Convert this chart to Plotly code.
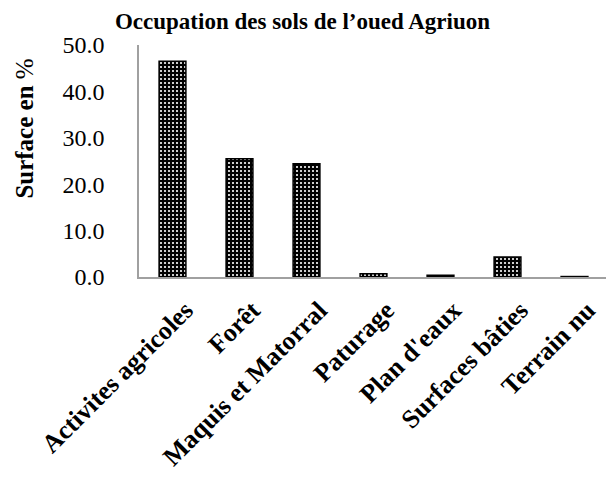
import plotly.graph_objects as go

# Land-use shares
categories = ["Activites agricoles", "Forêt", "Maquis et Matorral", "Paturage",
              "Plan d'eaux", "Surfaces bâties", "Terrain nu"]
surface_pct = [46.5, 25.5, 24.4, 0.7, 0.4, 4.3, 0.1]
y_ticks = [0, 10, 20, 30, 40, 50]
y_tick_labels = ["0.0", "10.0", "20.0", "30.0", "40.0", "50.0"]

serif = "Liberation Serif, Times New Roman, serif"

fig = go.Figure(go.Bar(
    x=categories,
    y=surface_pct,
    marker=dict(
        color="black",
        line=dict(color="black", width=1.5),
        pattern=dict(shape=".", bgcolor="black", fgcolor="white",
                     size=4, solidity=0.22, fillmode="replace"),
    ),
))

# page body adds an 8px margin, so the figure is a bit smaller than the window
fig.update_layout(
    width=606, height=474,
    margin=dict(l=131, r=6, t=37, b=205, autoexpand=False),
    paper_bgcolor="white", plot_bgcolor="white",
    bargap=0.6,
    showlegend=False,
    title=dict(text="<b>Occupation des sols de l’oued Agriuon</b>",
               x=0.486, xref="container", y=0.99, yref="container",
               yanchor="top", font=dict(family=serif, size=23, color="black")),
    font=dict(family=serif, color="black"),
)

# y-axis title sits above the axis centre in the original, so use an annotation
fig.add_annotation(
    text="<b>Surface en</b> %", textangle=-90, showarrow=False,
    xref="paper", yref="paper", x=-0.245, y=0.64,
    xanchor="center", yanchor="middle",
    font=dict(family=serif, size=25, color="black"),
)

fig.update_yaxes(
    range=[0, 50], tickvals=y_ticks, ticktext=y_tick_labels,
    tickfont=dict(size=24, family=serif), showgrid=False, zeroline=False,
    showline=True, linecolor="#a0a0a0", linewidth=1.5, ticks="",
    ticklabelstandoff=28, automargin=False,
)
fig.update_xaxes(
    tickangle=-45, tickfont=dict(size=26, family=serif),
    showline=True, linecolor="#a0a0a0", linewidth=1.5, ticks="",
    showgrid=False, automargin=False, ticklabelstandoff=6, ticklabelshift=13,
    tickvals=categories, ticktext=["<b>" + c + "</b>" for c in categories],
)

fig.write_html("out.html")
